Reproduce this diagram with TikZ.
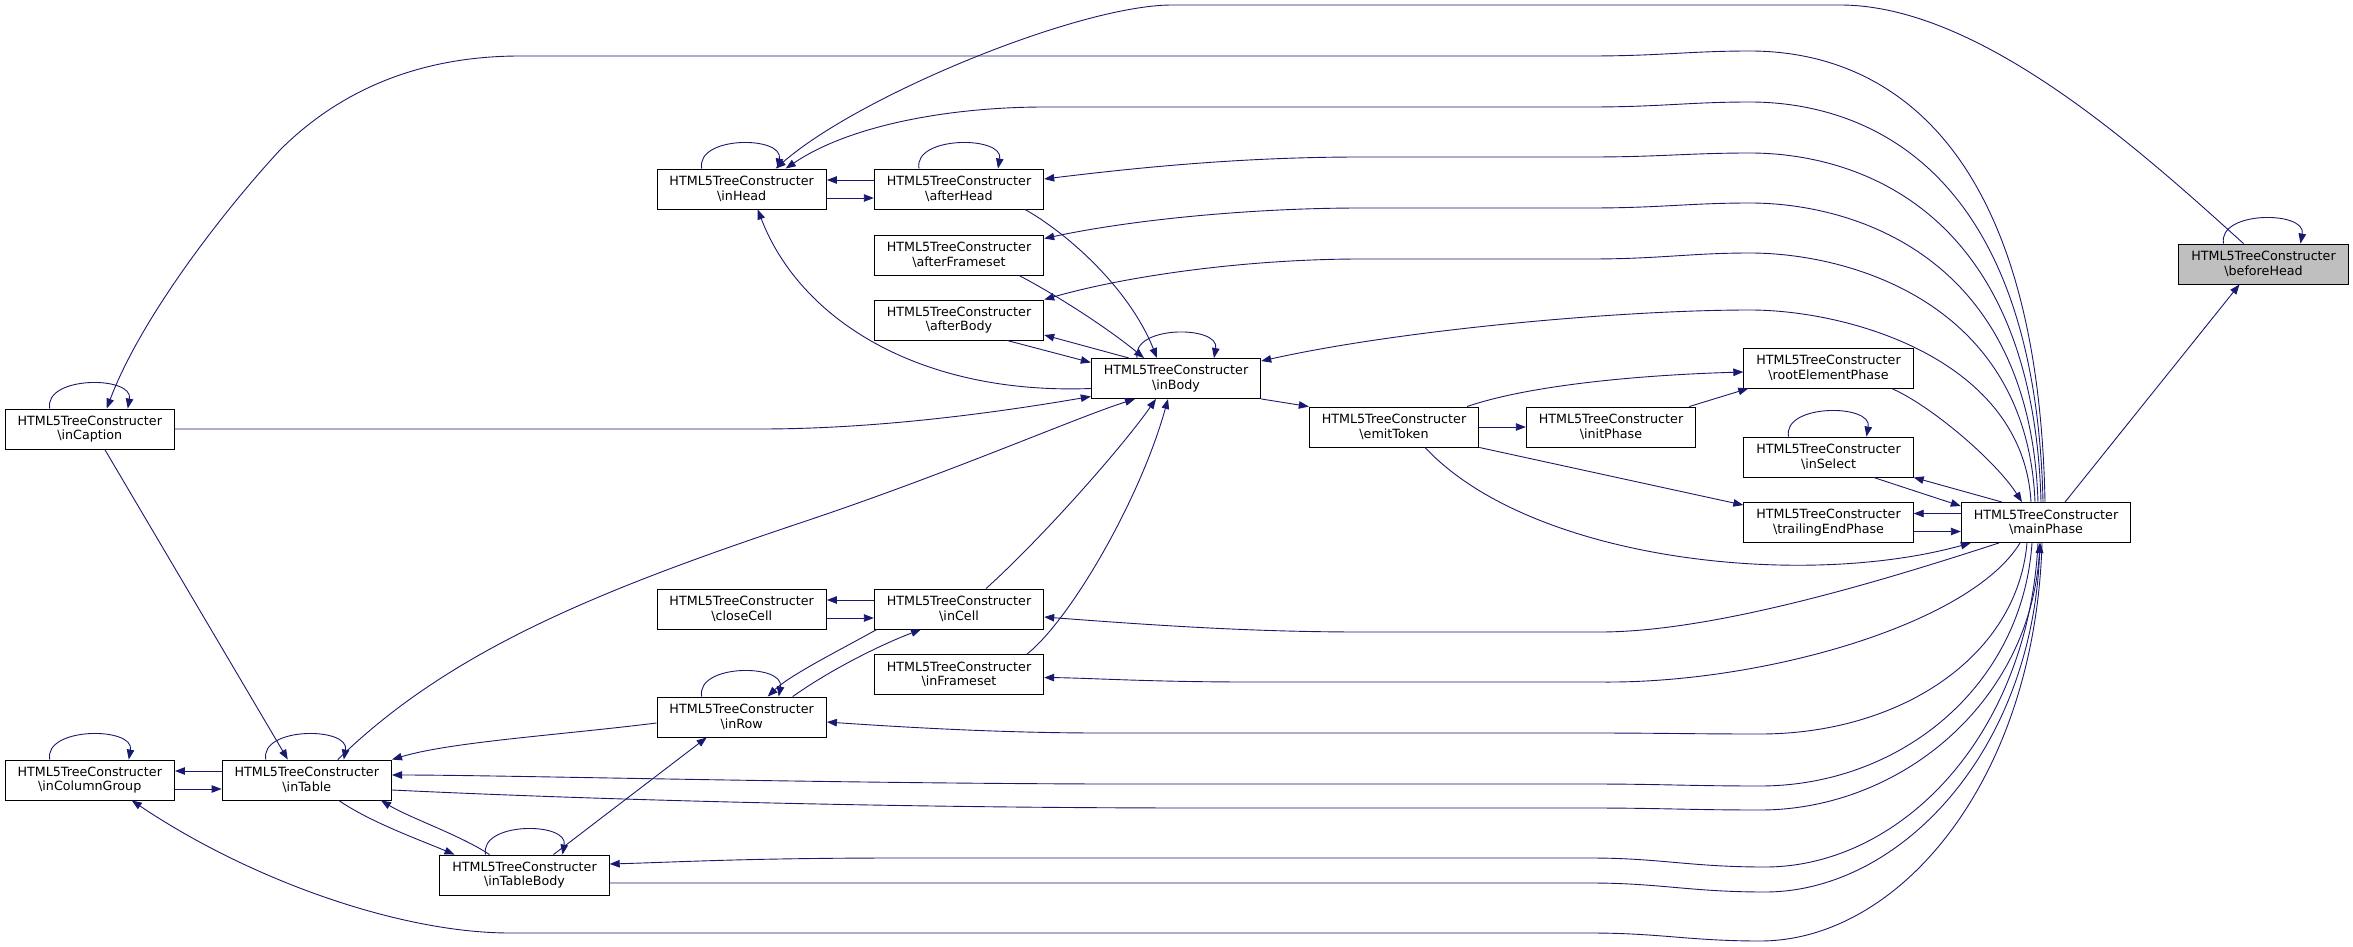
\documentclass[tikz,border=0pt]{standalone}
\usepackage{fontspec}
\setmainfont{DejaVu Sans}
\usetikzlibrary{arrows.meta,calc}
\definecolor{edgeblue}{RGB}{25,25,112}
\newcommand{\fnname}[1]{HTML5TreeConstructer\\\textbackslash #1}

\begin{document}
\begin{tikzpicture}[x=1pt,y=-1pt,
  fn/.style={draw=black, line width=0.9pt, fill=white, minimum width=169.5pt,
    minimum height=40pt, inner sep=0pt, align=center,
    font=\fontsize{12.7}{14.7}\selectfont},
  cur/.style={fn, fill=black!25},
  call/.style={draw=edgeblue, line width=0.9pt, -{Triangle[length=10pt,width=7.5pt]}}]

\useasboundingbox (0,0) rectangle (2353,947);

% 1. The functions
\node[cur] (bfHead)  at (2263.5,264)  {\fnname{beforeHead}};
\node[fn] (mainP)    at (2046,522.5)  {\fnname{mainPhase}};
\node[fn] (rootEl)   at (1828.5,368)  {\fnname{rootElementPhase}};
\node[fn] (inSel)    at (1828.5,457)  {\fnname{inSelect}};
\node[fn] (trailEnd) at (1828.5,522.5) {\fnname{trailingEndPhase}};
\node[fn] (initP)    at (1611,427)    {\fnname{initPhase}};
\node[fn] (emitT)    at (1394,427)    {\fnname{emitToken}};
\node[fn] (inBody)   at (1176,378.5)  {\fnname{inBody}};
\node[fn] (aHead)    at (959,189)     {\fnname{afterHead}};
\node[fn] (aFrame)   at (959,255)     {\fnname{afterFrameset}};
\node[fn] (aBody)    at (959,320)     {\fnname{afterBody}};
\node[fn] (inCell)   at (959,609)     {\fnname{inCell}};
\node[fn] (inFrame)  at (959,674.5)   {\fnname{inFrameset}};
\node[fn] (inHead)   at (741.7,189)   {\fnname{inHead}};
\node[fn] (closeC)   at (741.7,609)   {\fnname{closeCell}};
\node[fn] (inRow)    at (741.7,717)   {\fnname{inRow}};
\node[fn] (inTBody)  at (524.5,875)   {\fnname{inTableBody}};
\node[fn] (inTable)  at (306.8,780)   {\fnname{inTable}};
\node[fn] (inColG)   at (89.75,780)   {\fnname{inColumnGroup}};
\node[fn] (inCap)    at (89.75,429)   {\fnname{inCaption}};

% 2. Self calls
\foreach \n/\a/\b in {bfHead/-40/37, inHead/-40/36, aHead/-40/39, inBody/-39/38,
    inSel/-40/38, inRow/-40/37, inTBody/-39/38, inTable/-41/37, inColG/-40/39, inCap/-40/38}
  \draw[call] ($(\n.north)+(\a,0)$) .. controls +(-6,-33) and +(6,-33) .. ($(\n.north)+(\b,0)$);

% 3. Upper fan out of mainPhase
\draw[call] ($(mainP.north)+(-1,0)$) .. controls (2037,101) and (1850,51) .. (1750,51)
  .. controls (1690,51) and (1660,56) .. (1590,56) -- (520,56)
  .. controls (420,56) and (340,90) .. (280,150)
  .. controls (220,215) and (140,320) .. ($(inCap.north)+(17,0)$);
\draw[call] ($(mainP.north)+(-3,0)$) .. controls (2035,152) and (1850,102) .. (1750,102)
  .. controls (1690,102) and (1660,107) .. (1590,107) -- (1045,107)
  .. controls (950,107) and (850,125) .. ($(inHead.north)+(44,0)$);
\draw[call] ($(mainP.north)+(-5,0)$) .. controls (2033,203) and (1850,153) .. (1750,153)
  .. controls (1690,153) and (1660,157) .. (1590,157) -- (1361,157)
  .. controls (1250,157) and (1150,166) .. ($(aHead.east)+(0,-10)$);
\draw[call] ($(mainP.north)+(-8,0)$) .. controls (2030,253) and (1850,203) .. (1750,203)
  .. controls (1690,203) and (1660,208) .. (1590,208) -- (1361,208)
  .. controls (1250,208) and (1130,220) .. ($(aFrame.north east)+(0,4)$);
\draw[call] ($(mainP.north)+(-11,0)$) .. controls (2027,303) and (1850,253) .. (1750,253)
  .. controls (1690,253) and (1660,259) .. (1590,259) -- (1361,259)
  .. controls (1250,259) and (1130,275) .. (aBody.north east);
\draw[call] ($(mainP.north)+(-15,0)$) .. controls (2023,360) and (1850,310) .. (1750,310)
  .. controls (1620,310) and (1400,330) .. ($(inBody.north east)+(0,3)$);

% 4. beforeHead, rootElementPhase, inSelect, trailingEndPhase
\draw[call] ($(bfHead.north)+(-20,0)$) .. controls (2140,150) and (1980,5) .. (1840,5)
  -- (1172,5) .. controls (1080,5) and (860,95) .. ($(inHead.north)+(34,0)$);
\draw[call] ($(mainP.north)+(19,0)$) -- ($(bfHead.south)+(-24,0)$);
\draw[call] ($(rootEl.south)+(63,0)$) .. controls (1930,405) and (1995,460) .. ($(mainP.north)+(-24,0)$);
\draw[call] ($(inSel.south)+(45,0)$) -- ($(mainP.north west)+(0,4)$);
\draw[call] ($(mainP.north)+(-44,0)$) -- (inSel.south east);
\draw[call] ($(mainP.west)+(0,-9)$) -- ($(trailEnd.east)+(0,-9)$);
\draw[call] ($(trailEnd.east)+(0,9)$) -- ($(mainP.west)+(0,9)$);

% 5. emitToken
\draw[call] (emitT.east) -- (initP.west);
\draw[call] ($(emitT.north)+(73,0)$) .. controls (1530,385) and (1640,375) .. ($(rootEl.west)+(0,4)$);
\draw[call] ($(initP.north east)+(-7,0)$) -- ($(rootEl.south west)+(5,0)$);
\draw[call] (emitT.south east) -- ($(trailEnd.north west)+(0,3)$);
\draw[call] ($(emitT.south)+(31,0)$) .. controls (1530,560) and (1800,590) .. ($(mainP.south west)+(10,0)$);
\draw[call] (inBody.south east) -- (emitT.north west);

% 6. Lower fan out of mainPhase
\draw[call] ($(mainP.south)+(-47,0)$) .. controls (1900,575) and (1720,632) .. (1600,632)
  -- (1361,632) .. controls (1250,632) and (1150,625) .. ($(inCell.east)+(0,8)$);
\draw[call] ($(mainP.south)+(-26,0)$) .. controls (1970,625) and (1760,684) .. (1600,682)
  -- (1250,682) .. controls (1150,682) and (1090,678) .. ($(inFrame.east)+(0,3)$);
\draw[call] ($(mainP.south)+(-19,0)$) .. controls (2017,657) and (1900,734) .. (1760,734)
  .. controls (1690,734) and (1660,733) .. (1590,733) -- (1100,733)
  .. controls (1000,733) and (900,727) .. ($(inRow.east)+(0,5)$);
\draw[call] ($(mainP.south)+(-14,0)$) .. controls (2022,687) and (1900,786) .. (1760,786)
  .. controls (1690,786) and (1660,784) .. (1590,784) -- (1100,784)
  .. controls (800,783) and (500,775) .. ($(inTable.east)+(0,-5)$);
\draw[call] ($(inTable.east)+(0,10)$) .. controls (600,800) and (900,808) .. (1200,808)
  -- (1590,808) .. controls (1660,808) and (1690,810) .. (1760,810)
  .. controls (1900,810) and (2030,703) .. ($(mainP.south)+(-6,0)$);
\draw[call] ($(mainP.south)+(-8,0)$) .. controls (2028,737) and (1900,867) .. (1765,867)
  .. controls (1690,867) and (1660,858) .. (1590,858) -- (900,858)
  .. controls (750,858) and (680,862) .. ($(inTBody.east)+(0,-11)$);
\draw[call] ($(inTBody.east)+(0,8)$) -- (1590,883) .. controls (1660,883) and (1690,892) .. (1765,892)
  .. controls (1900,892) and (2032,752) .. ($(mainP.south)+(-6,0)$);
\draw[call] ($(mainP.south)+(-4,0)$) .. controls (2035,780) and (1900,941) .. (1760,941)
  .. controls (1690,941) and (1660,933) .. (1590,933) -- (510,933)
  .. controls (400,933) and (250,880) .. ($(inColG.south)+(42,0)$);

% 7. Around inBody
\draw[call] ($(aHead.south)+(66,0)$) .. controls (1070,235) and (1130,290) .. ($(inBody.north)+(-19,0)$);
\draw[call] ($(aFrame.south)+(60,0)$) .. controls (1060,297) and (1110,330) .. ($(inBody.north)+(-32,0)$);
\draw[call] ($(aBody.south)+(48,0)$) -- ($(inBody.west)+(0,-16)$);
\draw[call] ($(inBody.north)+(-47,0)$) -- ($(aBody.east)+(0,15)$);
\draw[call] ($(inBody.west)+(0,10)$) .. controls (920,395) and (800,320) .. ($(inHead.south)+(16,0)$);
\draw[call] ($(aHead.west)+(0,-9)$) -- ($(inHead.east)+(0,-9)$);
\draw[call] ($(inHead.east)+(0,9)$) -- ($(aHead.west)+(0,9)$);
\draw[call] (inCap.east) -- (760,429) .. controls (880,429) and (1000,412) .. ($(inBody.west)+(0,18)$);
\draw[call] ($(inTable.north)+(31,0)$) .. controls (450,650) and (600,590) .. (800,523)
  .. controls (950,473) and (1075,418) .. ($(inBody.south)+(-41,0)$);
\draw[call] ($(inCell.north)+(27,0)$) .. controls (1040,540) and (1120,450) .. ($(inBody.south)+(-20,0)$);
\draw[call] ($(inFrame.north)+(68,0)$) .. controls (1070,620) and (1140,500) .. ($(inBody.south)+(-8,0)$);

% 8. Cells and rows
\draw[call] ($(inCell.west)+(0,-9)$) -- ($(closeC.east)+(0,-9)$);
\draw[call] ($(closeC.east)+(0,9)$) -- ($(inCell.west)+(0,9)$);
\draw[call] ($(inCell.south west)+(3,0)$) .. controls (840,650) and (790,675) .. ($(inRow.north)+(26,0)$);
\draw[call] ($(inRow.north)+(51,0)$) .. controls (830,670) and (880,645) .. ($(inCell.south)+(-38,0)$);
\draw[call] ($(inRow.west)+(0,6)$) .. controls (560,735) and (450,742) .. (inTable.north east);

% 9. Tables
\draw[call] ($(inCap.south)+(15,0)$) -- ($(inTable.north)+(-19,0)$);
\draw[call] ($(inTable.west)+(0,-9)$) -- ($(inColG.east)+(0,-9)$);
\draw[call] ($(inColG.east)+(0,9)$) -- ($(inTable.west)+(0,9)$);
\draw[call] ($(inTable.south)+(32,0)$) .. controls (370,822) and (420,840) .. ($(inTBody.north)+(-70,0)$);
\draw[call] ($(inTBody.north)+(-35,0)$) .. controls (460,835) and (410,818) .. ($(inTable.south east)+(-11,0)$);
\draw[call] ($(inTBody.north)+(29,0)$) -- ($(inRow.south)+(-35,0)$);

\end{tikzpicture}
\end{document}
